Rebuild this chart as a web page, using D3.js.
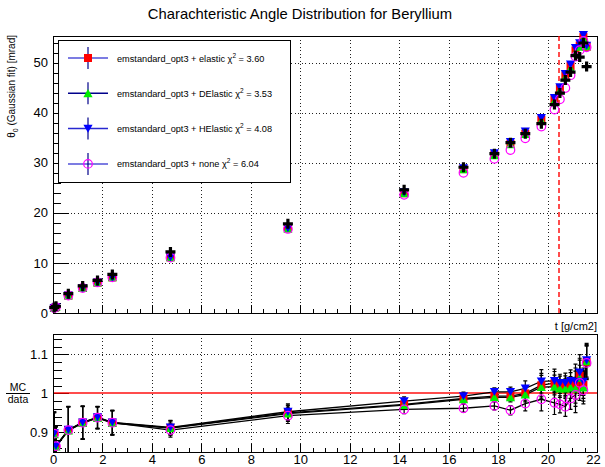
<!DOCTYPE html>
<html>
<head>
<meta charset="utf-8">
<script src="https://cdn.jsdelivr.net/npm/d3@7"></script>
<style>
  body { margin: 0; background: #fff; }
  svg { display: block; }
  text { font-family: "Liberation Sans", Arial, Helvetica, sans-serif; fill: #000; }
</style>
</head>
<body>
<svg id="chart" width="605" height="467"></svg>
<script>
// ---- data ---------------------------------------------------------------
// target thickness t [g/cm2]
const thickness = [0.05, 0.12, 0.62, 1.2, 1.8, 2.4, 4.75, 9.5, 14.2, 16.6, 17.85,
                   18.5, 19.1, 19.75, 20.28, 20.5, 20.72, 20.93, 21.13, 21.3, 21.45, 21.58];
// measured theta_0 [mrad]
const dataTheta = [1.12, 1.35, 3.86, 5.4, 6.5, 7.7, 12.2, 17.8, 24.6, 29.1, 31.8,
                   34.0, 35.8, 37.8, 41.6, 43.9, 46.5, 48.1, 51.4, 51.1, 53.9, 49.2];
// MC / data ratio for each physics configuration
const ratioElastic  = [0.897, 0.865, 0.906, 0.925, 0.938, 0.925, 0.912, 0.950, 0.972, 0.987, 0.993,
                       0.993, 1.000, 1.021, 1.026, 1.022, 1.020, 1.025, 1.020, 1.045, 1.022, 1.080];
const ratioDElastic = [0.895, 0.864, 0.905, 0.924, 0.937, 0.924, 0.911, 0.948, 0.970, 0.985, 0.990,
                       0.990, 0.997, 1.016, 1.017, 1.012, 1.012, 1.015, 1.012, 1.040, 1.015, 1.082];
const ratioHElastic = [0.898, 0.866, 0.907, 0.926, 0.939, 0.926, 0.913, 0.953, 0.980, 0.993, 1.004,
                       1.004, 1.013, 1.031, 1.032, 1.027, 1.027, 1.032, 1.030, 1.054, 1.030, 1.085];
const ratioNone     = [0.897, 0.865, 0.906, 0.925, 0.938, 0.925, 0.906, 0.943, 0.959, 0.962, 0.968,
                       0.957, 0.974, 0.985, 0.976, 0.972, 0.966, 0.987, 0.996, 1.027, 1.008, 1.078];
// uncertainty on the ratio
const ratioErr = [0.055, 0.05, 0.06, 0.042, 0.028, 0.031, 0.018, 0.02, 0.011, 0.01, 0.01,
                  0.012, 0.019, 0.03, 0.03, 0.022, 0.025, 0.028, 0.045, 0.045, 0.035, 0.043];

const seriesLabels = ["emstandard_opt3 + elastic", "emstandard_opt3 + DElastic",
                      "emstandard_opt3 + HElastic", "emstandard_opt3 + none"];
const chi2Values = ["3.60", "3.53", "4.08", "6.04"];
const cutThickness = 20.48;

const xTickValues = d3.range(0, 23, 2);
const yTopTickValues = [0, 10, 20, 30, 40, 50];
const yBotTickValues = [0.9, 1.0, 1.1];

const titleText = "Charachteristic Angle Distribution for Beryllium";
const xTitle = "t [g/cm2]";

// ---- layout -------------------------------------------------------------
const svg = d3.select("#chart");
const frameL = 53, frameR = 597;
const topT = 36, topB = 313, botT = 334, botB = 452;

const x = d3.scaleLinear().domain([0, 22]).range([frameL, frameR]);
const yTop = d3.scaleLinear().domain([0, 55.3]).range([topB, topT]);
const yBot = d3.scaleLinear().domain([0.85, 1.152]).range([botB, botT]);

const series = [
  { label: seriesLabels[0], chi2: chi2Values[0], ratio: ratioElastic,  shape: "square",  color: "#ff0000", legendLine: "#5050d8" },
  { label: seriesLabels[1], chi2: chi2Values[1], ratio: ratioDElastic, shape: "triUp",   color: "#00ee00", legendLine: "#00008b" },
  { label: seriesLabels[2], chi2: chi2Values[2], ratio: ratioHElastic, shape: "triDown", color: "#0000ff", legendLine: "#2828d0" },
  { label: seriesLabels[3], chi2: chi2Values[3], ratio: ratioNone,     shape: "circle",  color: "#ff00ff", legendLine: "#5050d8" }
];

// marker paths centred on (0,0)
const markerPath = {
  square:  "M-4,-4h8v8h-8Z",
  triUp:   "M0,-4.2L4.6,3.9L-4.6,3.9Z",
  triDown: "M0,4.2L4.6,-3.9L-4.6,-3.9Z",
  cross:   "M-1.6,-5h3.2v3.4h3.4v3.2h-3.4v3.4h-3.2v-3.4h-3.4v-3.2h3.4Z"
};

function drawMarker(g, shape, color, cx, cy) {
  if (shape === "circle") {
    g.append("circle").attr("cx", cx).attr("cy", cy).attr("r", 4.3)
      .attr("fill", "none").attr("stroke", color).attr("stroke-width", 1.2);
  } else {
    g.append("path").attr("d", markerPath[shape])
      .attr("transform", `translate(${cx},${cy})`).attr("fill", color);
  }
}

const px = v => Math.round(v) + 0.5;

const gridStyle = sel => sel.attr("stroke", "#222").attr("stroke-width", 1)
  .attr("stroke-dasharray", "1.2,2.3").attr("shape-rendering", "crispEdges");

function styleAxis(g) {
  g.select(".domain").remove();
  g.selectAll(".tick line").attr("stroke", "#000").attr("shape-rendering", "crispEdges");
  g.selectAll("text").attr("font-size", 13).attr("fill", "#000")
    .attr("font-family", "Liberation Sans, Arial, sans-serif");
}

// ---- title --------------------------------------------------------------
svg.append("text").attr("x", 300).attr("y", 19).attr("text-anchor", "middle")
  .attr("font-size", 14.8).text(titleText);

// ---- upper panel: theta_0 vs thickness ----------------------------------
const topPanel = svg.append("g");

// grid
topPanel.append("g").selectAll("line").data(xTickValues.filter(v => v > 0 && v < 22)).join("line")
  .attr("x1", d => px(x(d))).attr("x2", d => px(x(d)))
  .attr("y1", topT).attr("y2", topB).call(gridStyle);
topPanel.append("g").selectAll("line").data(yTopTickValues.filter(v => v > 0)).join("line")
  .attr("x1", frameL).attr("x2", frameR)
  .attr("y1", d => px(yTop(d))).attr("y2", d => px(yTop(d))).call(gridStyle);

// axes (ticks drawn inside the frame)
topPanel.append("g").attr("transform", `translate(${frameL},0)`)
  .call(d3.axisLeft(yTop).tickValues(d3.range(0, 56, 2)).tickSizeInner(-8).tickSizeOuter(0).tickFormat(""))
  .call(styleAxis);
topPanel.append("g").attr("transform", `translate(${frameL},0)`)
  .call(d3.axisLeft(yTop).tickValues(yTopTickValues).tickSizeInner(-16).tickSizeOuter(0).tickPadding(5).tickFormat(d3.format("d")))
  .call(styleAxis);
topPanel.append("g").attr("transform", `translate(0,${topB})`)
  .call(d3.axisBottom(x).tickValues(d3.range(0, 22.01, 0.5)).tickSizeInner(-4).tickSizeOuter(0).tickFormat(""))
  .call(styleAxis);
topPanel.append("g").attr("transform", `translate(0,${topB})`)
  .call(d3.axisBottom(x).tickValues(xTickValues).tickSizeInner(-8).tickSizeOuter(0).tickFormat(""))
  .call(styleAxis);

// frame
topPanel.append("rect").attr("x", frameL + 0.5).attr("y", topT + 0.5)
  .attr("width", frameR - frameL).attr("height", topB - topT)
  .attr("fill", "none").attr("stroke", "#000").attr("shape-rendering", "crispEdges");

// y-axis title
const yTitle = topPanel.append("text").attr("transform", `translate(15,35) rotate(-90)`)
  .attr("text-anchor", "end").attr("font-size", 10);
yTitle.append("tspan").text("θ");
yTitle.append("tspan").attr("font-size", 7).attr("dy", 2.5).text("0");
yTitle.append("tspan").attr("dy", -2.5).text(" (Gaussian fit) [mrad]");

// vertical cut line
topPanel.append("line").attr("x1", Math.round(x(cutThickness))).attr("x2", Math.round(x(cutThickness)))
  .attr("y1", topT).attr("y2", topB).attr("shape-rendering", "crispEdges")
  .attr("stroke", "#ff0000").attr("stroke-width", 2).attr("stroke-opacity", 0.7)
  .attr("stroke-dasharray", "5,3");

// MC markers (theta_0 = data * ratio), then data crosses on top
const topMarks = topPanel.append("g");
series.forEach(s => {
  thickness.forEach((t, i) => {
    drawMarker(topMarks, s.shape, s.color, x(t), yTop(dataTheta[i] * s.ratio[i]));
  });
});
thickness.forEach((t, i) => drawMarker(topMarks, "cross", "#000", x(t), yTop(dataTheta[i])));

// legend
const leg = svg.append("g");
leg.append("rect").attr("x", 58.5).attr("y", 40.5).attr("width", 232).attr("height", 142)
  .attr("fill", "#fff").attr("stroke", "#000").attr("shape-rendering", "crispEdges");
series.forEach((s, i) => {
  const cy = 58 + i * 35.3;
  leg.append("line").attr("x1", 68).attr("x2", 108).attr("y1", cy).attr("y2", cy)
    .attr("stroke", s.legendLine).attr("stroke-width", 1.5);
  leg.append("line").attr("x1", 88).attr("x2", 88).attr("y1", cy - 11).attr("y2", cy + 11)
    .attr("stroke", "#00008b").attr("stroke-width", 1.2);
  drawMarker(leg, s.shape, s.color, 88, cy);
  const txt = leg.append("text").attr("x", 117).attr("y", cy + 3.5).attr("font-size", 9.2);
  txt.append("tspan").text(s.label + " χ");
  txt.append("tspan").attr("font-size", 6.5).attr("dy", -4).text("2");
  txt.append("tspan").attr("dy", 4).text(" = " + s.chi2);
});

// ---- lower panel: MC / data ratio ---------------------------------------
const botPanel = svg.append("g");
svg.append("defs").append("clipPath").attr("id", "botClip")
  .append("rect").attr("x", frameL).attr("y", botT).attr("width", frameR - frameL).attr("height", botB - botT);

botPanel.append("g").selectAll("line").data(xTickValues.filter(v => v > 0 && v < 22)).join("line")
  .attr("x1", d => px(x(d))).attr("x2", d => px(x(d)))
  .attr("y1", botT).attr("y2", botB).call(gridStyle);
botPanel.append("g").selectAll("line").data(yBotTickValues.filter(v => v !== 1)).join("line")
  .attr("x1", frameL).attr("x2", frameR)
  .attr("y1", d => px(yBot(d))).attr("y2", d => px(yBot(d))).call(gridStyle);

botPanel.append("g").attr("transform", `translate(${frameL},0)`)
  .call(d3.axisLeft(yBot).tickValues(d3.range(0.86, 1.15, 0.02)).tickSizeInner(-9).tickSizeOuter(0).tickFormat(""))
  .call(styleAxis);
botPanel.append("g").attr("transform", `translate(${frameL},0)`)
  .call(d3.axisLeft(yBot).tickValues(yBotTickValues).tickSizeInner(-16).tickSizeOuter(0).tickPadding(5)
    .tickFormat(d => d === 1 ? "1" : d.toFixed(1)))
  .call(styleAxis);
botPanel.append("g").attr("transform", `translate(0,${botB})`)
  .call(d3.axisBottom(x).tickValues(d3.range(0, 22.01, 0.5)).tickSizeInner(-4).tickSizeOuter(0).tickFormat(""))
  .call(styleAxis);
const xAxisG = botPanel.append("g").attr("transform", `translate(0,${botB})`)
  .call(d3.axisBottom(x).tickValues(xTickValues).tickSizeInner(-8).tickSizeOuter(0).tickPadding(3).tickFormat(d3.format("d")))
  .call(styleAxis);
xAxisG.selectAll(".tick").filter(d => d === 22).select("text").attr("dx", -4);

// reference line at ratio = 1
botPanel.append("line").attr("x1", frameL).attr("x2", frameR)
  .attr("y1", Math.round(yBot(1))).attr("y2", Math.round(yBot(1))).attr("shape-rendering", "crispEdges")
  .attr("stroke", "#ff0000").attr("stroke-width", 2).attr("stroke-opacity", 0.7);

const plot = botPanel.append("g").attr("clip-path", "url(#botClip)");
const line = d3.line().x((d, i) => x(thickness[i])).y(d => yBot(d));
series.forEach(s => {
  plot.append("path").attr("d", line(s.ratio)).attr("fill", "none")
    .attr("stroke", "#000").attr("stroke-width", 1.3);
});
series.forEach(s => {
  thickness.forEach((t, i) => {
    const cx = x(t), hi = yBot(s.ratio[i] + ratioErr[i]), lo = yBot(s.ratio[i] - ratioErr[i]);
    plot.append("path").attr("d", `M${cx},${hi}V${lo}M${cx - 2},${hi}H${cx + 2}M${cx - 2},${lo}H${cx + 2}`)
      .attr("stroke", "#000").attr("stroke-width", 1.2).attr("fill", "none");
  });
});
series.forEach(s => {
  thickness.forEach((t, i) => drawMarker(plot, s.shape, s.color, x(t), yBot(s.ratio[i])));
});

botPanel.append("rect").attr("x", frameL + 0.5).attr("y", botT + 0.5)
  .attr("width", frameR - frameL).attr("height", botB - botT)
  .attr("fill", "none").attr("stroke", "#000").attr("shape-rendering", "crispEdges");

// axis titles of the lower panel
svg.append("text").attr("x", frameR).attr("y", 330).attr("text-anchor", "end")
  .attr("font-size", 11).text(xTitle);
svg.append("text").attr("x", 18).attr("y", 391).attr("text-anchor", "middle").attr("font-size", 10.5).text("MC");
svg.append("line").attr("x1", 6).attr("x2", 30).attr("y1", 393.5).attr("y2", 393.5)
  .attr("stroke", "#000").attr("stroke-width", 1);
svg.append("text").attr("x", 18).attr("y", 403).attr("text-anchor", "middle").attr("font-size", 10.5).text("data");
</script>
</body>
</html>
